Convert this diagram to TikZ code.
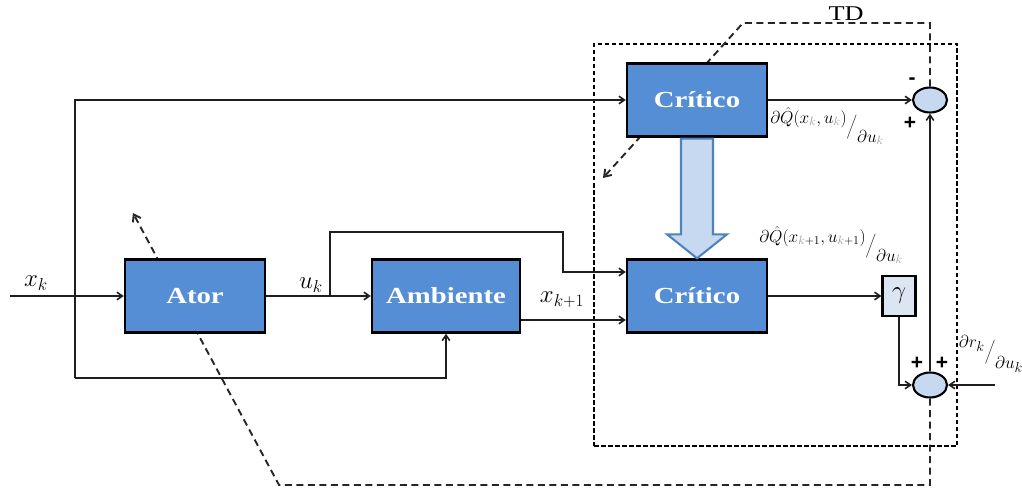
\documentclass[tikz,border=0pt]{standalone}
\usepackage{fontspec}
\usepackage{graphicx}
\setmainfont{Liberation Serif}
\newfontfamily\signfont{Liberation Sans}
\usetikzlibrary{arrows.meta,shapes.geometric,calc,backgrounds}
\definecolor{blockblue}{RGB}{85,142,213}
\definecolor{lightblue}{RGB}{198,217,241}
\definecolor{paleblue}{RGB}{220,230,242}
\definecolor{arrowedge}{RGB}{79,129,189}
\definecolor{wirecol}{RGB}{30,30,30}
\definecolor{subgray}{RGB}{150,150,150}
\newcommand\widetext[1]{\scalebox{1.25}[1]{#1}}
\newcommand\gk{{\color{subgray}k}}
\begin{document}
\begin{tikzpicture}[x=1pt,y=-1pt,
  block/.style={draw=black, line width=2.4pt, fill=blockblue, minimum width=140pt,
    minimum height=73pt, inner sep=0pt, text=white,
    font=\fontsize{23}{26}\selectfont\bfseries},
  gbox/.style={draw=black, line width=2.1pt, fill=paleblue, minimum width=33pt,
    minimum height=40pt, inner sep=0pt, font=\fontsize{24}{26}\selectfont},
  sum/.style={ellipse, draw=black, line width=2.1pt, fill=lightblue,
    minimum width=34pt, minimum height=25pt, inner sep=0pt},
  tdframe/.style={draw=black, line width=2.6pt, dash pattern=on 4.5pt off 2.5pt,
    inner sep=0pt},
  wire/.style={draw=wirecol, line width=1.6pt,
    -{Straight Barb[length=5.5pt,width=7.5pt,line width=1.6pt]}},
  plain/.style={draw=wirecol, line width=1.6pt},
  fb/.style={draw=black!85, line width=1.9pt, dash pattern=on 7pt off 4.5pt},
  fbtip/.style={-{Straight Barb[length=6.5pt,width=9pt,line width=1.9pt]}},
  fat/.style={draw=arrowedge, line width=2.1pt, fill=lightblue},
  lbl/.style={inner sep=0pt, font=\fontsize{23}{25}\selectfont},
  dlbl/.style={inner sep=0pt, font=\fontsize{18}{20}\selectfont},
  sign/.style={inner sep=0pt, font=\fontsize{21}{22}\selectfont\signfont\bfseries}]

\useasboundingbox (0,0) rectangle (1022,489);

% blocks
\node[block] (actor) at (195,296) {\widetext{Ator}};
\node[block, minimum width=148pt] (env) at (446,296) {\widetext{Ambiente}};
\node[block] (critT) at (697,100) {\widetext{Crítico}};
\node[block] (critB) at (697,296) {\widetext{Crítico}};
\node[gbox] (gam) at (899,296) {$\gamma$};
\node[sum] (sumT) at (930,100) {};
\node[sum] (sumB) at (930,385) {};

% free ends and bends
\coordinate (in) at (10,296);
\coordinate (split) at (75,296);
\coordinate (fbk) at (75,378);
\coordinate (usplit) at (330,296);
\coordinate (uup) at (563,232);
\coordinate (rin) at (995,385);
\coordinate (tdlow) at (279,485);
\coordinate (actTip) at (133,213);
\coordinate (tdhigh) at (743,23);
\coordinate (critTip) at (603,178);

\begin{scope}[on background layer]
  % TD region
  \node[tdframe, minimum width=363pt, minimum height=402pt] (td) at (775.5,245) {};
  % temporal-difference feedback paths
  \draw[fb,fbtip] (sumB.south) -- (sumB.south |- tdlow) -- (tdlow) -- (actTip);
  \draw[fb,fbtip] (sumT.north) -- (sumT.north |- tdhigh) -- (tdhigh) -- (critTip);
\end{scope}

\node[inner sep=0pt, font=\fontsize{21}{22}\selectfont] (tdname) at (846,14) {\scalebox{1.25}[1]{TD}};

% signal wires
\draw[wire] (in) -- (actor.west);
\draw[wire] (split) |- (critT.west);
\draw[plain] (split) -- (fbk);
\draw[wire] (fbk) -| (env.south);
\draw[wire] (actor.east) -- (env.west);
\draw[wire] (usplit) |- (uup) |- ($(critB.west)+(0,-24)$);
\draw[wire] ($(env.east)+(0,24)$) -- ($(critB.west)+(0,24)$);
\draw[wire] (critB.east) -- (gam.west);
\draw[wire] (gam.south) |- (sumB.west);
\draw[wire] (sumB.north) -- (sumT.south);
\draw[wire] (critT.east) -- (sumT.west);
\draw[wire] (rin) -- (sumB.east);

% critic weights copied to the second critic
\draw[fat] ($(critT.south)+(-16,1)$) -- ($(critT.south)+(16,1)$)
  -- ($(critB.north)+(16,-24)$) -- ($(critB.north)+(30,-24)$)
  -- (critB.north) -- ($(critB.north)+(-30,-24)$)
  -- ($(critB.north)+(-16,-24)$) -- cycle;

% labels
\node[lbl] (lxk) at (36,283) {$x_k$};
\node[lbl] (luk) at (311,285) {$u_k$};
\node[lbl] (lxk1) at (562,300) {$x_{k+1}$};
\node[dlbl] (lq1) at (827,126)
  {$\raisebox{1.0ex}{$\partial\hat{Q}(x_\gk,u_\gk)$}\bigg/\raisebox{-1.3ex}{$\partial u_\gk$}$};
\node[dlbl] (lq2) at (831,245)
  {$\raisebox{1.0ex}{$\partial\hat{Q}(x_{\gk+1},u_{\gk+1})$}\bigg/\raisebox{-1.3ex}{$\partial u_\gk$}$};
\node[inner sep=0pt, font=\fontsize{19}{22}\selectfont] (lr) at (991,354)
  {$\raisebox{1.0ex}{$\partial r_k$}\bigg/\raisebox{-1.3ex}{$\partial u_k$}$};

% summing signs
\node[sign] (sm1) at (912,81) {-};
\node[sign] (sp1) at (910,123) {+};
\node[sign] (sp2) at (917,363) {+};
\node[sign] (sp3) at (942,363) {+};
\end{tikzpicture}
\end{document}
